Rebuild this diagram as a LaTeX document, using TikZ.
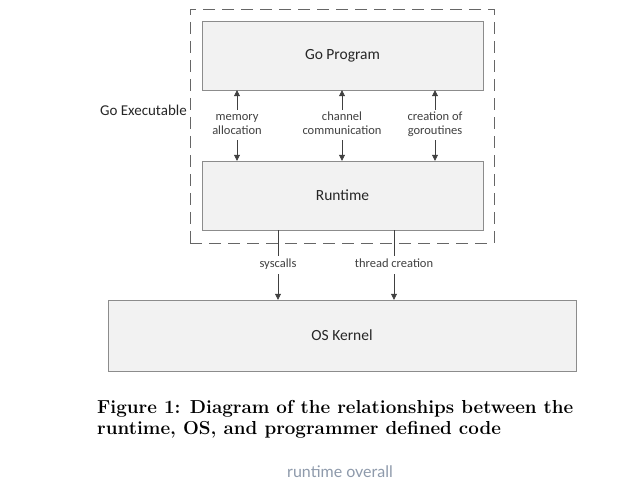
\documentclass[tikz,border=0pt]{standalone}
\usepackage{fontspec}
\newfontfamily\calib{Carlito}
\newfontfamily\webfont{Lato}
\usetikzlibrary{arrows.meta, positioning}

\definecolor{boxfill}{HTML}{F2F2F2}
\definecolor{boxline}{HTML}{8C8C8C}
\definecolor{arrline}{HTML}{404040}
\definecolor{capgrey}{HTML}{8E9AAB}

\newcommand{\twoln}[2]{\strut #1\\\strut #2}

\begin{document}
\begin{tikzpicture}[
  x=1pt, y=-1pt,
  blk/.style  ={draw=boxline, fill=boxfill, rectangle, minimum width=281pt,
                minimum height=69pt, font=\calib\fontsize{15.5}{18}\selectfont,
                text=black!85},
  frame/.style={draw=black!60, dash pattern=on 12pt off 7pt, rectangle,
                minimum width=304pt, minimum height=234pt},
  lbl/.style  ={align=center, inner sep=1pt,
                font=\calib\fontsize{12.5}{14}\selectfont, text=black!75},
  arr/.style  ={-{Triangle[width=6pt,length=6pt]}, arrline, semithick},
  lin/.style  ={arrline, semithick},
]
\useasboundingbox (0,0) rectangle (643,494);

\node[frame] (exe)  at (342,126)   {};
\node[blk]   (prog) at (342.5,55.5) {Go Program};
\node[blk]   (rt)   at (342.5,195.5) {Runtime};
\node[blk, minimum width=468pt, minimum height=71pt] (os) at (342,335.5) {OS Kernel};

\node[anchor=east, inner sep=1pt, font=\calib\fontsize{15}{17}\selectfont,
      text=black!85] (exelbl) at (188,110) {Go Executable};

% runtime <-> program
\node[lbl] (mem)  at (237,125) {\twoln{memory}{allocation}};
\node[lbl] (chan) at (342,125) {\twoln{channel}{communication}};
\node[lbl] (gor)  at (435,125) {\twoln{creation of}{goroutines}};
\foreach \n in {mem, chan, gor} {
  \draw[arr] (\n.north) -- (\n |- prog.south);
  \draw[arr] (\n.south) -- (\n |- rt.north);
}

% runtime -> kernel
\node[lbl, inner sep=2pt] (sys) at (278,265) {\strut syscalls};
\node[lbl, inner sep=2pt] (thr) at (394,265) {\strut thread creation};
\foreach \n in {sys, thr} {
  \draw[lin] (\n |- rt.south) -- (\n.north);
  \draw[arr] (\n.south) -- (\n |- os.north);
}

\node[anchor=north west, align=left, inner sep=0pt,
      font=\bfseries\fontsize{18.8}{21}\selectfont] (cap) at (97,400)
  {Figure 1: Diagram of the relationships between the\\
   runtime, OS, and programmer defined code};
\node[font=\webfont\fontsize{16}{18}\selectfont, text=capgrey] (sub) at (340,472)
  {runtime overall};
\end{tikzpicture}
\end{document}
